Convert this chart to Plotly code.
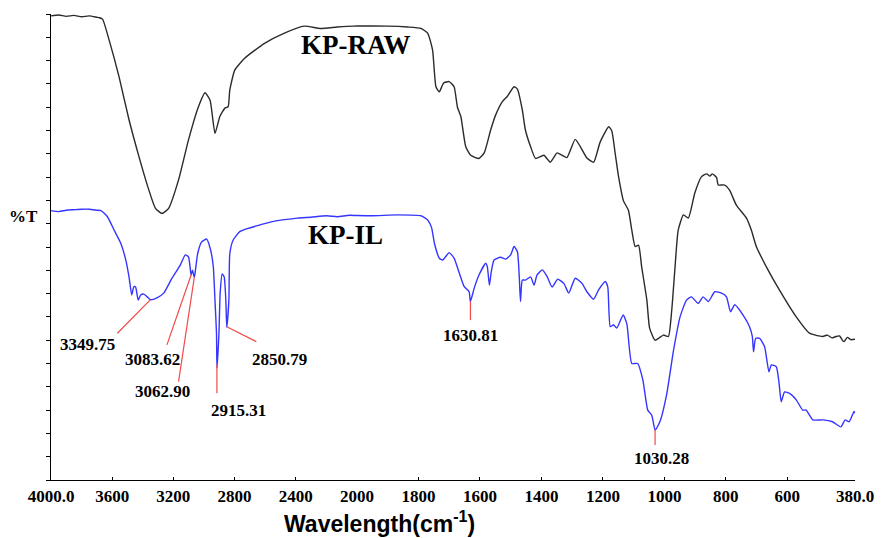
import numpy as np
import plotly.graph_objects as go

# ---------------- spectra (wavenumber in cm-1, transmittance in arbitrary %T units) ----------------
raw_wn = [4000, 3950, 3900, 3850, 3800, 3750, 3700, 3684, 3663, 3620,
          3555, 3490, 3425, 3360, 3317, 3274, 3231, 3166, 3101, 3036,
          2993, 2960, 2928, 2896, 2863, 2842, 2831, 2798, 2734, 2604,
          2474, 2345, 2237, 2129, 2021, 1900, 1835, 1792, 1770, 1754,
          1743, 1732, 1718, 1700, 1684, 1673, 1662, 1646, 1630, 1603,
          1586, 1565, 1549, 1527, 1511, 1489, 1478, 1462, 1452, 1435,
          1419, 1392, 1371, 1349, 1333, 1317, 1290, 1273, 1252, 1230,
          1209, 1181, 1171, 1160, 1149, 1133, 1117, 1106, 1095, 1084,
          1074, 1057, 1048, 1030, 1003, 987, 976, 966, 955, 938,
          922, 901, 879, 863, 852, 844, 830, 825, 804, 788,
          766, 733, 717, 701, 663, 626, 571, 528, 485, 470,
          455, 442, 430, 420, 415, 405, 393, 380]
raw_T = [99.6, 99.8, 99.5, 99.7, 99.4, 99.6, 99.3, 99.2, 98.9, 94.4,
         86.5, 77.3, 69.4, 62.2, 58.3, 57.2, 58.3, 64.4, 73.0, 80.1,
         83.1, 81.5, 74.4, 78.0, 79.8, 80.1, 83.7, 88.0, 90.5, 93.7,
         95.9, 97.4, 96.9, 97.2, 97.4, 97.4, 97.2, 96.9, 95.9, 92.3,
         84.4, 83.3, 85.2, 85.5, 84.4, 80.0, 78.0, 71.5, 69.7, 69.0,
         70.2, 75.1, 78.3, 81.2, 82.3, 84.4, 83.9, 79.4, 75.1, 71.5,
         69.0, 69.7, 68.2, 70.2, 69.7, 69.2, 73.1, 71.5, 69.1, 68.2,
         72.5, 75.8, 74.9, 70.1, 65.1, 59.9, 57.9, 53.6, 50.1, 50.4,
         45.8, 38.6, 32.6, 30.0, 31.1, 30.8, 36.5, 45.1, 53.6, 56.9,
         56.2, 61.6, 65.1, 65.7, 65.2, 65.7, 64.9, 63.3, 63.3, 62.2,
         59.0, 56.2, 53.6, 50.1, 45.1, 40.8, 35.0, 31.5, 30.8, 31.1,
         30.5, 30.8, 30.9, 29.9, 29.7, 30.6, 30.1, 30.2]

il_wn = [4000, 3950, 3900, 3850, 3800, 3749, 3700, 3673, 3631, 3587,
         3544, 3511, 3490, 3472, 3458, 3447, 3430, 3414, 3393, 3371,
         3350, 3307, 3263, 3209, 3155, 3122, 3101, 3084, 3075, 3063,
         3058, 3041, 3015, 2982, 2957, 2939, 2928, 2918, 2915, 2902,
         2894, 2881, 2868, 2857, 2851, 2837, 2831, 2809, 2766, 2712,
         2669, 2561, 2388, 2300, 2200, 2129, 2050, 1954, 1867, 1792,
         1770, 1757, 1748, 1732, 1721, 1700, 1684, 1667, 1651, 1635,
         1631, 1617, 1603, 1581, 1576, 1569, 1563, 1554, 1533, 1516,
         1500, 1489, 1478, 1472, 1468, 1462, 1452, 1435, 1424, 1414,
         1397, 1381, 1365, 1347, 1327, 1311, 1290, 1268, 1252, 1230,
         1214, 1192, 1184, 1176, 1165, 1155, 1134, 1122, 1106, 1087,
         1070, 1054, 1041, 1030, 1014, 993, 970, 949, 928, 912,
         890, 874, 857, 836, 814, 798, 785, 771, 744, 723,
         714, 710, 703, 690, 674, 660, 652, 636, 627, 620,
         609, 593, 571, 550, 539, 517, 485, 453, 426, 412,
         399, 383, 380]
il_T = [57.8, 57.6, 57.9, 58.0, 58.1, 58.1, 57.9, 57.8, 56.5, 53.6,
        50.8, 47.2, 43.6, 39.7, 41.5, 41.4, 38.6, 39.7, 39.9, 39.3,
        38.7, 39.1, 40.1, 43.3, 46.1, 48.3, 47.9, 44.0, 45.0, 43.5,
        44.4, 48.6, 51.1, 51.7, 49.4, 45.8, 38.6, 31.5, 24.0, 31.5,
        40.1, 44.2, 43.6, 38.6, 32.8, 38.6, 48.6, 51.5, 53.3, 54.0,
        54.4, 55.4, 56.2, 56.4, 56.7, 56.5, 56.8, 56.7, 56.9, 56.7,
        55.8, 54.1, 50.8, 47.6, 47.2, 48.8, 47.6, 44.4, 41.5, 40.4,
        38.3, 41.5, 44.0, 46.5, 45.8, 41.8, 44.7, 47.2, 47.8, 47.4,
        48.3, 50.1, 49.0, 43.6, 38.3, 42.9, 42.9, 43.6, 41.8, 44.0,
        45.1, 43.6, 41.4, 43.1, 42.2, 40.1, 43.3, 42.2, 40.4, 38.8,
        40.8, 42.6, 41.4, 32.9, 33.3, 32.6, 35.4, 33.5, 25.0, 25.0,
        21.5, 15.0, 13.9, 10.7, 12.6, 18.2, 27.9, 35.0, 38.6, 39.3,
        37.9, 39.3, 38.3, 40.4, 40.1, 39.3, 36.1, 37.6, 35.4, 32.9,
        30.8, 27.5, 30.4, 30.4, 28.6, 23.2, 24.7, 24.3, 20.8, 16.8,
        18.9, 18.6, 17.2, 15.0, 15.0, 12.9, 12.9, 12.5, 11.4, 12.9,
        12.5, 14.7, 14.3]

# marked bands of KP-IL
peak_wn = [3349.75, 3083.62, 3062.90, 2915.31, 2850.79, 1630.81, 1030.28]

# x tick values (the scale changes at 2000 cm-1)
ticks_high = [4000, 3600, 3200, 2800, 2400]
ticks_low = [2000, 1800, 1600, 1400, 1200, 1000, 800, 600, 380]

# ---------------- label placement ----------------
leader_end = [(3566, 31.5), (3242, 29.0), (3166, 21.1), (2915.31, 18.6),
              (2658, 29.7), (1630.81, 34.3), (1030.28, 7.5)]
label_pos = [(3760, 29.0), (3339, 25.8), (3274, 18.9), (2777, 15.0),
             (2507, 25.8), (1630, 31.1), (1009, 4.7)]

SERIF = "Liberation Serif, Times New Roman, serif"
BLACK_LINE = "#2b2b2b"
BLUE_LINE = "#3535ff"
RED = "#f24a4a"

fig = go.Figure()

split = 0.3805  # share of the width taken by 4000-2000 cm-1
for xa in ("x", "x2"):
    fig.add_trace(go.Scatter(x=raw_wn, y=raw_T, mode="lines", xaxis=xa, yaxis="y",
                             line=dict(color=BLACK_LINE, width=1.4, shape="spline",
                                       smoothing=0.5),
                             showlegend=False, name="KP-RAW"))
    fig.add_trace(go.Scatter(x=il_wn, y=il_T, mode="lines", xaxis=xa, yaxis="y",
                             line=dict(color=BLUE_LINE, width=1.4, shape="spline",
                                       smoothing=0.5),
                             showlegend=False, name="KP-IL"))

il_wn_asc = np.array(il_wn[::-1], dtype=float)
il_T_asc = np.array(il_T[::-1], dtype=float)

shapes = []
annotations = []
for wn, (ex, ey), (lx, ly) in zip(peak_wn, leader_end, label_pos):
    ref = "x" if wn >= 2000 else "x2"
    y0 = float(np.interp(wn, il_wn_asc, il_T_asc))
    shapes.append(dict(type="line", xref=ref, yref="y", x0=wn, y0=y0, x1=ex, y1=ey,
                       line=dict(color=RED, width=1.2)))
    annotations.append(dict(xref=ref if lx >= 2000 else "x2", yref="y", x=lx, y=ly,
                            text=f"{wn:.2f}", showarrow=False,
                            font=dict(family=SERIF, size=17, color="black", weight="bold"),
                            xanchor="center", yanchor="middle"))

annotations += [
    dict(xref="paper", yref="paper", x=0.3795, y=0.933, text="KP-RAW", showarrow=False,
         font=dict(family=SERIF, size=27, color="black", weight="bold"),
         xanchor="center", yanchor="middle"),
    dict(xref="paper", yref="paper", x=0.3665, y=0.526, text="KP-IL", showarrow=False,
         font=dict(family=SERIF, size=27, color="black", weight="bold"),
         xanchor="center", yanchor="middle"),
    dict(xref="paper", yref="paper", x=-0.0346, y=0.565, text="%T", showarrow=False,
         font=dict(family=SERIF, size=17, color="black", weight="bold"),
         xanchor="center", yanchor="middle"),
    dict(xref="paper", yref="paper", x=0.409, y=-0.09, text="Wavelength(cm<sup>-1</sup>)",
         showarrow=False,
         font=dict(family="Liberation Sans Narrow, Arial Narrow, Liberation Sans, Arial",
                   size=23, color="black", weight="bold"),
         xanchor="center", yanchor="middle"),
]

axis_common = dict(showline=True, linecolor="black", linewidth=1.3, showgrid=False,
                   zeroline=False, ticks="inside", ticklen=3, tickcolor="black",
                   tickfont=dict(family=SERIF, size=17, color="black", weight="bold"),
                   anchor="y")

fig.update_layout(
    width=886, height=538,
    margin=dict(l=51, r=26, t=14, b=58),
    paper_bgcolor="white", plot_bgcolor="white",
    xaxis=dict(domain=[0, split], range=[4000, 2000], tickvals=ticks_high,
               ticktext=["4000.0"] + [str(t) for t in ticks_high[1:]], **axis_common),
    xaxis2=dict(domain=[split, 1], range=[2000, 380], tickvals=ticks_low,
                ticktext=[str(t) for t in ticks_low[:-1]] + ["380.0"], **axis_common),
    yaxis=dict(range=[0, 100], dtick=5, showticklabels=False, showline=True,
               linecolor="black", linewidth=1.3, ticks="outside", ticklen=4,
               tickcolor="black", showgrid=False, zeroline=False),
    shapes=shapes,
    annotations=annotations,
)

fig.write_html("out.html")
